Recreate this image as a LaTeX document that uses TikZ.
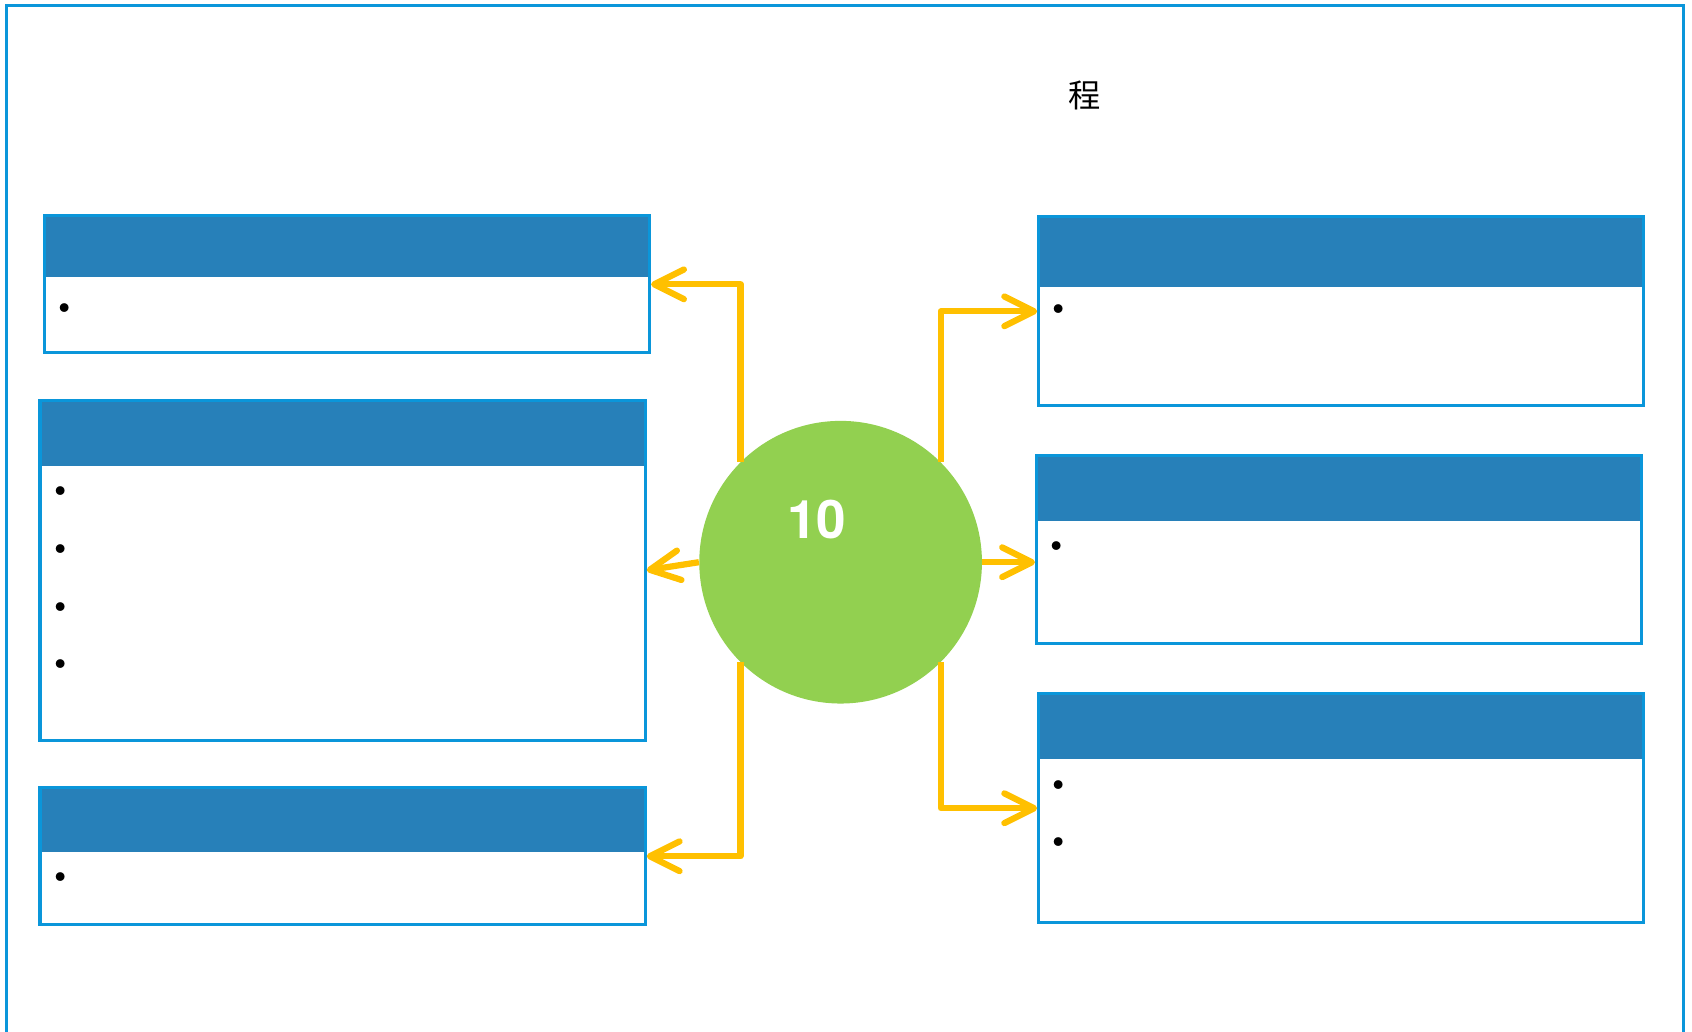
\documentclass[tikz,border=0pt]{standalone}
\usepackage{fontspec}
\newfontfamily\numfont{TeX Gyre Heros}
\newfontfamily\cjk{Noto Sans CJK SC}
\usetikzlibrary{arrows.meta}
\definecolor{lineblue}{RGB}{10,150,218}
\definecolor{headblue}{RGB}{39,128,185}
\definecolor{hubgreen}{RGB}{146,208,80}
\definecolor{linkyellow}{RGB}{255,192,0}
\tikzset{
  panel/.style 2 args={draw=lineblue, line width=1.6pt, minimum width=11.22cm, minimum height=#1, inner sep=0pt,
    path picture={\fill[headblue] (path picture bounding box.north west) rectangle ([yshift=-#2]path picture bounding box.north east);}},
  dot/.style={inner sep=0pt, font=\huge},
  link/.style={color=linkyellow, line width=3.3pt, line join=round, -{Straight Barb[round,length=5.5mm,width=5.5mm,line width=3.3pt]}}
}
\begin{document}
\begin{tikzpicture}[x=0.02cm, y=-0.02cm]
      \useasboundingbox (0,0) rectangle (1568,956);
      \draw[lineblue, line width=1.7pt] (6,956) -- (6,5) -- (1560,5) -- (1560,956);
      \draw
        (1005,88) node (title){\cjk\fontsize{17}{20}\selectfont 程}
        (321.5,263.5) node[panel={2.54cm}{1.14cm}] (tl){}
        (317.5,528.5) node[panel={6.3cm}{1.22cm}] (ml){}
        (317.5,793.5) node[panel={2.54cm}{1.2cm}] (bl){}
        (1243,288.5) node[panel={3.5cm}{1.3cm}] (tr){}
        (1241,509) node[panel={3.48cm}{1.22cm}] (mr){}
        (1243,749) node[panel={4.24cm}{1.2cm}] (br){}
        (779,521) node[circle, fill=hubgreen, inner sep=0pt, minimum size=5.24cm] (hub){}
        (757,481) node[text=white, font=\numfont\bfseries\fontsize{28}{30}\selectfont] (num){10};
      \draw
        (60,288) node[dot] (tl1){\textbullet}
        (56,458) node[dot] (ml1){\textbullet}
        (56,512) node[dot] (ml2){\textbullet}
        (56,565) node[dot] (ml3){\textbullet}
        (56,618) node[dot] (ml4){\textbullet}
        (56,816) node[dot] (bl1){\textbullet}
        (981,289) node[dot] (tr1){\textbullet}
        (979,509) node[dot] (mr1){\textbullet}
        (981,730) node[dot] (br1){\textbullet}
        (981,783) node[dot] (br2){\textbullet};
      \begin{scope}[link]
        \draw (hub.135) |- (tl.east);
        \draw (hub.west) -- (ml.east);
        \draw (hub.225) |- (bl.east);
        \draw (hub.45) |- (tr.west);
        \draw (hub.east) -- (hub.east -| mr.west);
        \draw (hub.-45) |- (br.west);
      \end{scope}
    \end{tikzpicture}
\end{document}
